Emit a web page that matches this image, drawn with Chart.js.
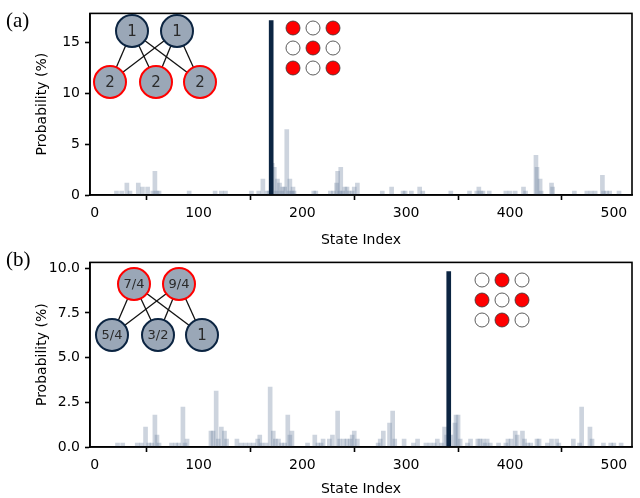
<!DOCTYPE html>
<html>
<head>
<meta charset="utf-8">
<script src="https://cdn.jsdelivr.net/npm/chart.js@4.4.0/dist/chart.umd.min.js"></script>
<style>
  html, body { margin: 0; padding: 0; background: #fff; }
  canvas { display: block; }
</style>
</head>
<body>
<canvas id="chartA" width="640" height="249"></canvas>
<canvas id="chartB" width="640" height="249"></canvas>
<script>
// ---- panel (a) ----
var statesA = [21, 26, 31, 34, 42, 46, 51, 56, 58, 60, 62, 91, 116, 122, 126, 151, 158, 162, 166, 168,
  171, 173, 175, 176, 178, 180, 181, 183, 185, 187, 188, 190, 191, 192, 211, 213, 227, 230, 233, 234,
  236, 237, 239, 241, 243, 245, 248, 250, 253, 277, 286, 297, 299, 305, 313, 316, 343, 361, 368, 370,
  372, 374, 380, 396, 400, 405, 413, 415, 425, 426, 429, 430, 440, 441, 462, 474, 478, 482, 489, 490,
  493, 496, 505];
var probA = [0.39, 0.39, 1.17, 0.39, 1.17, 0.78, 0.78, 0.39, 2.34, 0.39, 0.39, 0.39, 0.39, 0.39, 0.39, 0.39, 0.39, 1.56, 0.39, 0.39,
  3.13, 2.73, 0.39, 1.56, 1.17, 0.39, 0.78, 0.78, 6.45, 0.39, 1.56, 0.39, 0.78, 0.39, 0.39, 0.39, 0.39, 0.39, 1.17, 2.34,
  0.39, 2.73, 0.39, 0.78, 0.78, 0.39, 0.39, 0.78, 1.17, 0.39, 0.78, 0.39, 0.39, 0.39, 0.78, 0.39, 0.39, 0.39, 0.39, 0.78,
  0.39, 0.39, 0.39, 0.39, 0.39, 0.39, 0.78, 0.39, 3.91, 2.73, 1.56, 0.39, 1.17, 0.78, 0.39, 0.39, 0.39, 0.39, 1.95, 0.39,
  0.39, 0.39, 0.39];
var peakStateA = [170];
var peakProbA = [17.19];
var yTicksA = [0, 5, 10, 15];
var topLabelsA = ['1', '1'];
var bottomLabelsA = ['2', '2', '2'];
var patternA = [1, 0, 1, 0, 1, 0, 1, 0, 1];

// ---- panel (b) ----
var statesB = [22, 27, 41, 45, 49, 52, 55, 58, 60, 62, 74, 78, 81, 85, 87, 89, 112, 114, 117, 119,
  122, 125, 127, 137, 141, 145, 149, 153, 157, 159, 161, 165, 169, 172, 174, 177, 180, 183, 186, 188,
  190, 205, 212, 215, 218, 220, 226, 229, 234, 236, 240, 243, 246, 248, 250, 253,
  273, 275, 278, 284, 287, 289, 298, 307, 311, 319, 323, 327, 330, 334, 337, 339, 343, 347, 348, 350,
  352, 359, 362, 369, 371, 374, 376, 378, 381, 389, 396, 398, 401, 405, 407, 412, 414, 417, 420, 426,
  428, 436, 440, 445, 447, 461, 467, 469, 477, 479, 490, 497, 500, 507];
var probB = [0.22, 0.22, 0.22, 0.22, 1.12, 0.22, 0.22, 1.79, 0.67, 0.22, 0.22, 0.22, 0.22, 2.23, 0.22, 0.45, 0.89, 0.89, 3.13, 0.45,
  1.12, 0.89, 0.45, 0.45, 0.22, 0.22, 0.22, 0.22, 0.45, 0.67, 0.22, 0.22, 3.35, 0.89, 0.45, 0.45, 0.22, 0.22, 1.79, 0.67,
  0.89, 0.22, 0.67, 0.22, 0.22, 0.45, 0.45, 0.67, 2.01, 0.45, 0.45, 0.45, 0.45, 0.67, 0.89, 0.45,
  0.22, 0.45, 0.89, 1.34, 2.01, 0.45, 0.45, 0.22, 0.45, 0.22, 0.22, 0.22, 0.45, 0.22, 1.12, 0.67, 0.67, 1.34, 1.79, 1.79,
  0.45, 0.22, 0.45, 0.45, 0.45, 0.45, 0.22, 0.45, 0.22, 0.22, 0.22, 0.45, 0.45, 0.89, 0.67, 0.89, 0.45, 0.22, 0.22, 0.45,
  0.45, 0.22, 0.45, 0.45, 0.22, 0.45, 0.22, 2.23, 1.12, 0.45, 0.22, 0.22, 0.22, 0.22];
var peakStateB = [341];
var peakProbB = [9.82];
var yTicksB = [0, 2.5, 5, 7.5, 10];
var topLabelsB = ['7/4', '9/4'];
var bottomLabelsB = ['5/4', '3/2', '1'];
var patternB = [0, 1, 0, 1, 0, 1, 0, 1, 0];

var xTicks = [0, 100, 200, 300, 400, 500];

var NAVY = '#0c2542';
var LIGHT = 'rgba(112,132,160,0.35)';
var NODE_FILL = '#9aa7b7';

function toPoints(xs, ys) {
  var pts = [];
  for (var i = 0; i < xs.length; i++) pts.push({x: xs[i], y: ys[i]});
  return pts;
}

// frame, panel letter, little graph and 3x3 pattern
var decorPlugin = {
  id: 'decor',
  afterDraw: function(chart, args, o) {
    var ctx = chart.ctx, a = chart.chartArea;
    ctx.save();
    ctx.strokeStyle = '#000';
    ctx.lineWidth = 1.6;
    ctx.strokeRect(a.left, a.top, a.right - a.left, a.bottom - a.top);

    ctx.fillStyle = '#000';
    ctx.font = '21px "Liberation Serif"';
    ctx.textAlign = 'left';
    ctx.textBaseline = 'middle';
    ctx.fillText(o.letter, 6, o.letterY);

    // graph
    var top = [[o.gx, o.gy], [o.gx + 45, o.gy]];
    var bot = [[o.gx - 22, o.gy + 51], [o.gx + 24, o.gy + 51], [o.gx + 68, o.gy + 51]];
    ctx.strokeStyle = '#111';
    ctx.lineWidth = 1.3;
    for (var i = 0; i < top.length; i++) {
      for (var j = 0; j < bot.length; j++) {
        ctx.beginPath();
        ctx.moveTo(top[i][0], top[i][1]);
        ctx.lineTo(bot[j][0], bot[j][1]);
        ctx.stroke();
      }
    }
    function node(p, label, edge) {
      ctx.beginPath();
      ctx.arc(p[0], p[1], 16, 0, Math.PI * 2);
      ctx.fillStyle = NODE_FILL;
      ctx.fill();
      ctx.lineWidth = 2;
      ctx.strokeStyle = edge;
      ctx.stroke();
      ctx.fillStyle = '#2a2a2a';
      ctx.font = (label.length > 1 ? 13 : 15) + 'px "DejaVu Sans"';
      ctx.textAlign = 'center';
      ctx.textBaseline = 'middle';
      ctx.fillText(label, p[0], p[1] + 1);
    }
    for (i = 0; i < top.length; i++) node(top[i], o.topLabels[i], o.topEdge);
    for (j = 0; j < bot.length; j++) node(bot[j], o.bottomLabels[j], o.bottomEdge);

    // 3x3 pattern
    for (var k = 0; k < 9; k++) {
      var cx = o.px + (k % 3) * 20, cy = o.py + Math.floor(k / 3) * 20;
      ctx.beginPath();
      ctx.arc(cx, cy, 7, 0, Math.PI * 2);
      ctx.fillStyle = o.pattern[k] ? '#ff0000' : '#ffffff';
      ctx.fill();
      ctx.lineWidth = 0.8;
      ctx.strokeStyle = '#333';
      ctx.stroke();
    }
    ctx.restore();
  }
};

function makeChart(id, states, probs, peakX, peakY, yMax, yTicks, decimals, topPad, xHeight, decor) {
  var tickFont = {family: 'DejaVu Sans', size: 14};
  return new Chart(document.getElementById(id), {
    type: 'bar',
    data: {
      datasets: [
        {data: toPoints(peakX, peakY), backgroundColor: NAVY, barThickness: 4, grouped: false, order: 0},
        {data: toPoints(states, probs), backgroundColor: LIGHT, barThickness: 4, grouped: false, order: 1}
      ]
    },
    options: {
      responsive: false,
      animation: false,
      devicePixelRatio: 1,
      layout: {padding: {top: topPad, right: 8, left: 0, bottom: 0}},
      plugins: {legend: {display: false}, tooltip: {enabled: false}, decor: decor},
      scales: {
        x: {
          type: 'linear', min: -4.5, max: 517.5, offset: false,
          afterBuildTicks: function(s) { s.ticks = xTicks.map(function(v) { return {value: v}; }); },
          afterFit: function(s) { s.height = xHeight; },
          grid: {drawOnChartArea: false, tickLength: 5, tickWidth: 1.6, tickColor: '#000'},
          border: {display: true, color: '#000', width: 1.6},
          ticks: {font: tickFont, color: '#000', padding: 5, maxRotation: 0},
          title: {display: true, text: 'State Index', font: tickFont, color: '#000', padding: {top: 0, bottom: 0}}
        },
        y: {
          min: 0, max: yMax,
          afterBuildTicks: function(s) { s.ticks = yTicks.map(function(v) { return {value: v}; }); },
          afterFit: function(s) { s.width = 90; },
          grid: {drawOnChartArea: false, tickLength: 5, tickWidth: 1.6, tickColor: '#000'},
          border: {display: true, color: '#000', width: 1.6},
          ticks: {font: tickFont, color: '#000', padding: 5,
            callback: function(v) { return v.toFixed(decimals); }},
          title: {display: true, text: 'Probability (%)', font: tickFont, color: '#000', padding: {top: 34, bottom: 0}}
        }
      }
    },
    plugins: [decorPlugin]
  });
}

makeChart('chartA', statesA, probA, peakStateA, peakProbA, 17.9, yTicksA, 0, 11, 54, {
  letter: '(a)', letterY: 21, gx: 132, gy: 31, topLabels: topLabelsA, bottomLabels: bottomLabelsA,
  topEdge: NAVY, bottomEdge: '#ff0000', px: 293, py: 28, pattern: patternA
});
makeChart('chartB', statesB, probB, peakStateB, peakProbB, 10.33, yTicksB, 1, 13, 51, {
  letter: '(b)', letterY: 11, gx: 134, gy: 35, topLabels: topLabelsB, bottomLabels: bottomLabelsB,
  topEdge: '#ff0000', bottomEdge: NAVY, px: 482, py: 31, pattern: patternB
});
</script>
</body>
</html>
